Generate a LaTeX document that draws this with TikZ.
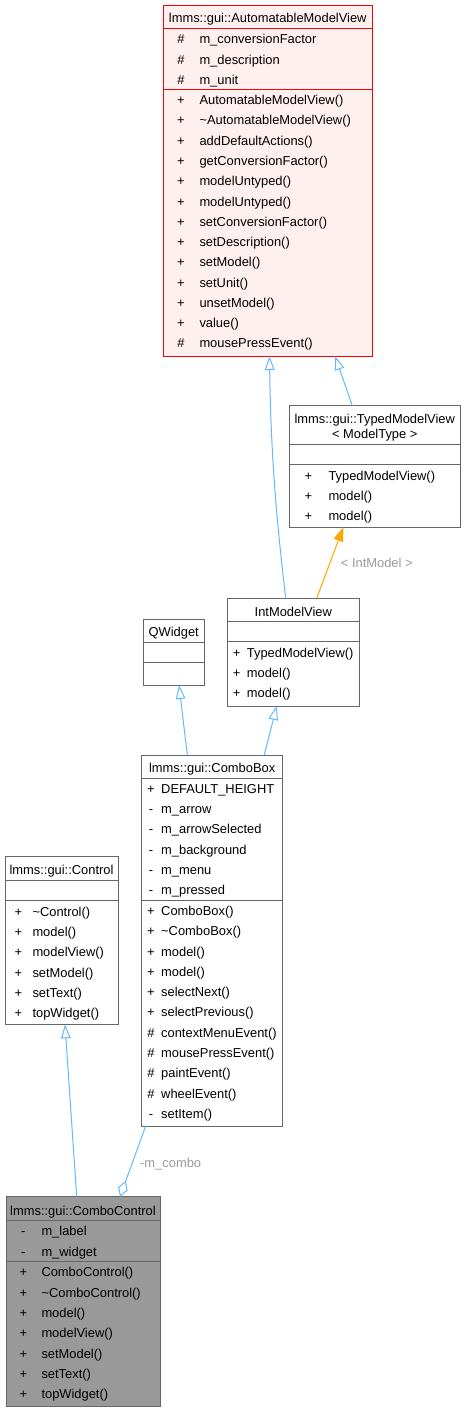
\documentclass[tikz,border=0pt]{standalone}
\usepackage{fontspec}
\setmainfont{Liberation Sans}
\usetikzlibrary{arrows.meta}
\definecolor{edgeblue}{HTML}{63B8FF}
\definecolor{edgeorange}{HTML}{FFA500}
\definecolor{labelgray}{HTML}{9A9A9A}
\definecolor{boxgray}{HTML}{666666}
\definecolor{curfill}{HTML}{999999}
\definecolor{hlfill}{HTML}{FFF0F0}
\definecolor{hlborder}{HTML}{FF0000}
\newcommand\memberrows[6]{%
  \foreach \msym/\mtxt [count=\mi from 0] in {#6} {
    \node[symtxt] (#1s\mi) at (#2,{#4+\mi*#5+4.4}) {\msym};
    \node[memtxt] (#1m\mi) at (#3,{#4+\mi*#5+4.4}) {\mtxt};
  }}
\begin{document}
\begin{tikzpicture}[x=1pt,y=-1pt,
  font=\fontsize{12.9}{15}\selectfont,
  classbox/.style={draw=boxgray, fill=white, line width=1pt, inner sep=0pt, outer sep=0pt, anchor=north west},
  sepline/.style={draw=boxgray, line width=1pt},
  symtxt/.style={inner sep=0pt, anchor=base},
  memtxt/.style={inner sep=0pt, anchor=base west},
  titletxt/.style={inner sep=0pt, anchor=base},
  inh/.style={draw=edgeblue, line width=1pt, -{Triangle[open, length=14pt, width=9.5pt]}},
  tmpl/.style={draw=edgeorange, line width=1pt, -{Triangle[length=14pt, width=10pt]}, fill=none},
  aggr/.style={draw=edgeblue, line width=1pt, -{Diamond[open, length=17pt, width=10pt]}},
  edgelabel/.style={text=labelgray, inner sep=0pt, anchor=base west}
]
\useasboundingbox (0,0) rectangle (466,1411);

% ---------- AutomatableModelView ----------
\node[classbox, draw=hlborder, fill=hlfill, minimum width=208.5pt, minimum height=351pt] (amv) at (163.5,5) {};
\draw[sepline, draw=hlborder] (amv.west |- 0,28.5) -- (amv.east |- 0,28.5);
\draw[sepline, draw=hlborder] (amv.west |- 0,89.5) -- (amv.east |- 0,89.5);
\node[titletxt] (amvt) at (267.75,22.7) {lmms::gui::AutomatableModelView};
\memberrows{amva}{181}{199.3}{39.3}{20.3}{\#/m\_conversionFactor, \#/m\_description, \#/m\_unit}
\memberrows{amvo}{181}{199.3}{100.2}{20.28}{+/AutomatableModelView(), +/\textasciitilde AutomatableModelView(), +/addDefaultActions(), +/getConversionFactor(), +/modelUntyped(), +/modelUntyped(), +/setConversionFactor(), +/setDescription(), +/setModel(), +/setUnit(), +/unsetModel(), +/value(), \#/mousePressEvent()}

% ---------- TypedModelView ----------
\node[classbox, minimum width=170.5pt, minimum height=121.6pt] (tmv) at (289.5,405.7) {};
\draw[sepline] (tmv.west |- 0,444) -- (tmv.east |- 0,444);
\draw[sepline] (tmv.west |- 0,464) -- (tmv.east |- 0,464);
\node[titletxt] (tmvt) at (374.75,423.7) {lmms::gui::TypedModelView};
\node[titletxt] (tmvt2) at (374.75,438.7) {< ModelType >};
\memberrows{tmvo}{308.3}{328.3}{475.7}{20}{+/TypedModelView(), +/model(), +/model()}

% ---------- IntModelView ----------
\node[classbox, minimum width=131.3pt, minimum height=107.7pt] (imv) at (227.7,598.3) {};
\draw[sepline] (imv.west |- 0,621) -- (imv.east |- 0,621);
\draw[sepline] (imv.west |- 0,641) -- (imv.east |- 0,641);
\node[titletxt] (imvt) at (293.3,616.4) {IntModelView};
\memberrows{imvo}{236.7}{246.7}{653.3}{20}{+/TypedModelView(), +/model(), +/model()}

% ---------- QWidget ----------
\node[classbox, minimum width=60.7pt, minimum height=66pt] (qw) at (143.3,619) {};
\draw[sepline] (qw.west |- 0,642) -- (qw.east |- 0,642);
\draw[sepline] (qw.west |- 0,662) -- (qw.east |- 0,662);
\node[titletxt] (qwt) at (173.7,636.7) {QWidget};

% ---------- ComboBox ----------
\node[classbox, minimum width=141pt, minimum height=371pt] (cb) at (141.7,755) {};
\draw[sepline] (cb.west |- 0,778.3) -- (cb.east |- 0,778.3);
\draw[sepline] (cb.west |- 0,900) -- (cb.east |- 0,900);
\node[titletxt] (cbt) at (212.2,772.7) {lmms::gui::ComboBox};
\memberrows{cba}{151}{161}{789}{20.27}{+/DEFAULT\_HEIGHT, -/m\_arrow, -/m\_arrowSelected, -/m\_background, -/m\_menu, -/m\_pressed}
\memberrows{cbo}{151}{161}{911}{20.3}{+/ComboBox(), +/\textasciitilde ComboBox(), +/model(), +/model(), +/selectNext(), +/selectPrevious(), \#/contextMenuEvent(), \#/mousePressEvent(), \#/paintEvent(), \#/wheelEvent(), -/setItem()}

% ---------- Control ----------
\node[classbox, minimum width=113pt, minimum height=167.6pt] (ctl) at (5,856.7) {};
\draw[sepline] (ctl.west |- 0,880) -- (ctl.east |- 0,880);
\draw[sepline] (ctl.west |- 0,900) -- (ctl.east |- 0,900);
\node[titletxt] (ctlt) at (61.5,874.4) {lmms::gui::Control};
\memberrows{ctlo}{18.3}{32.3}{911.7}{20.3}{+/\textasciitilde Control(), +/model(), +/modelView(), +/setModel(), +/setText(), +/topWidget()}

% ---------- ComboControl ----------
\node[classbox, fill=curfill, minimum width=154pt, minimum height=209.3pt] (cc) at (6,1196.7) {};
\draw[sepline] (cc.west |- 0,1220) -- (cc.east |- 0,1220);
\draw[sepline] (cc.west |- 0,1261) -- (cc.east |- 0,1261);
\node[titletxt] (cct) at (83,1215.1) {lmms::gui::ComboControl};
\memberrows{cca}{23.3}{41.3}{1231}{20.7}{-/m\_label, -/m\_widget}
\memberrows{cco}{23.3}{41.3}{1272.3}{20.33}{+/ComboControl(), +/\textasciitilde ComboControl(), +/model(), +/modelView(), +/setModel(), +/setText(), +/topWidget()}

% ---------- Edges ----------
\draw[inh] (imv.north -| 285.7,0) .. controls (279,540) and (271,470) .. (amv.south -| 269.5,0);
\draw[inh] (tmv.north -| 352.3,0) -- (amv.south -| 335,0);
\draw[tmpl] (imv.north -| 316.7,0) -- (tmv.south -| 343.3,0);
\node[edgelabel] (lbl1) at (340.7,567.6) {< IntModel >};
\draw[inh] (cb.north -| 187.3,0) -- (qw.south -| 179,0);
\draw[inh] (cb.north -| 264.3,0) -- (imv.south -| 276.7,0);
\draw[inh] (cc.north -| 76.7,0) -- (ctl.south -| 65,0);
\draw[aggr] (cb.south -| 145.7,0) -- (cc.north -| 120,0);
\node[edgelabel] (lbl2) at (140,1167) {-m\_combo};
\end{tikzpicture}
\end{document}
